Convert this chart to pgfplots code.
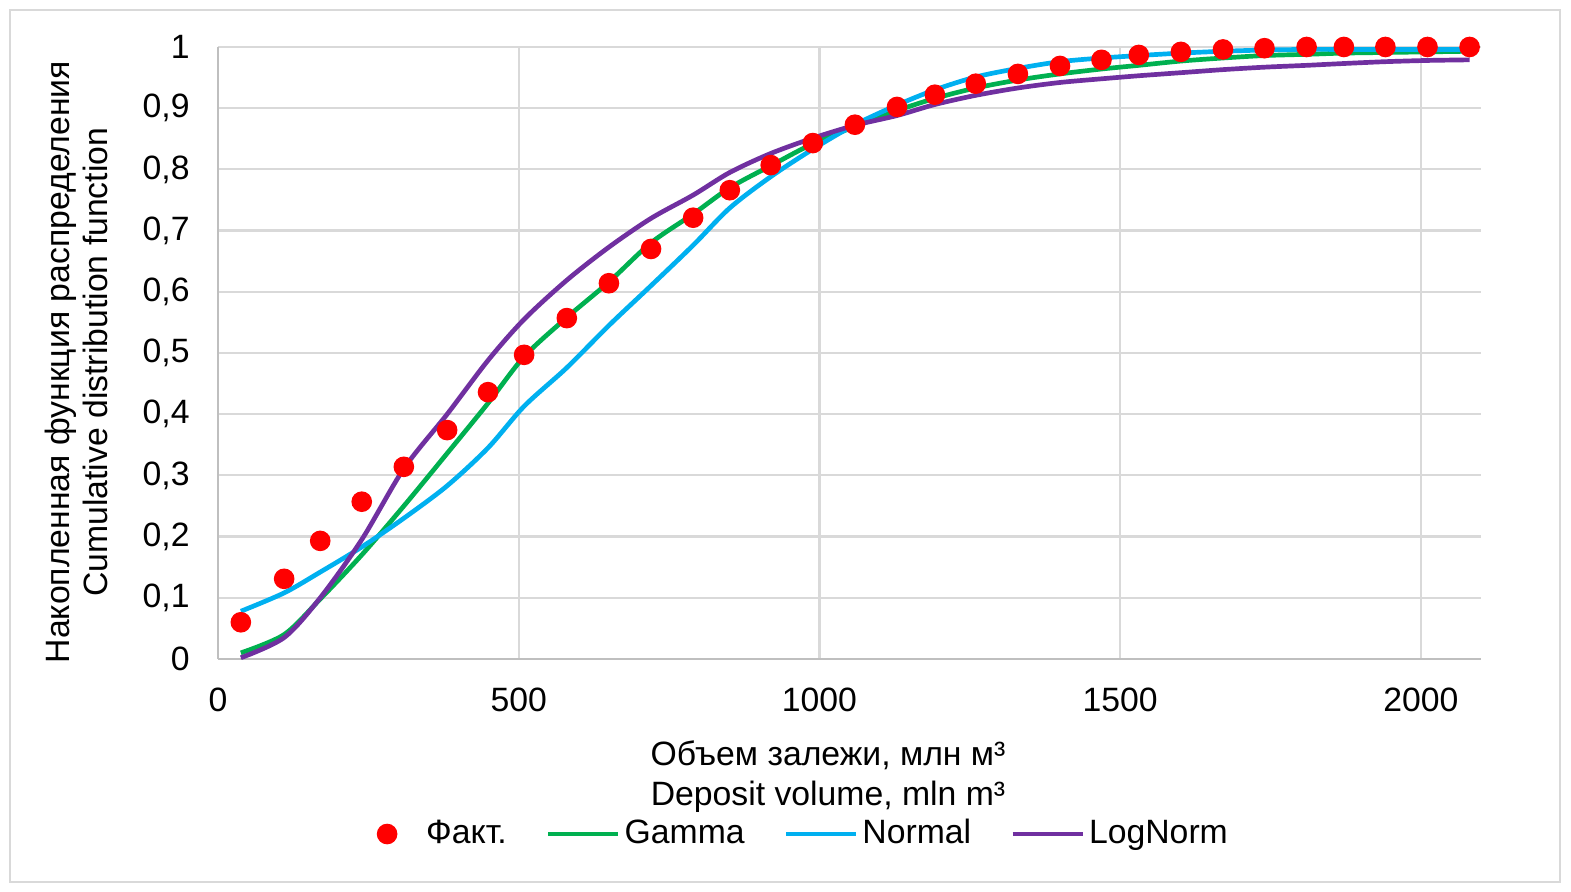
\documentclass[border=0pt]{standalone}
\usepackage{pgfplots}
\pgfplotsset{compat=1.18}
\usepackage{fontspec}
\setmainfont{Liberation Sans}
\definecolor{cred}{HTML}{FF0000}
\definecolor{cgreen}{HTML}{00B050}
\definecolor{cblue}{HTML}{00B0F0}
\definecolor{cpurple}{HTML}{7030A0}
\definecolor{cgrid}{HTML}{D9D9D9}
\definecolor{caxis}{HTML}{BFBFBF}
\pgfplotsset{
  linelegend/.style={legend image code/.code={\draw[##1] (0pt,0pt) -- (22.4pt,0pt);}},
  dotlegend/.style={legend image code/.code={\path[draw=none,fill=none] (0pt,0pt) rectangle (22.4pt,0pt);\draw[##1] plot coordinates {(11.2pt,0pt)};}},
}
\pgfplotstableread{
x y
38 0.060
110 0.131
170 0.193
239 0.257
309 0.314
381 0.374
449 0.436
509 0.497
580 0.557
650 0.614
720 0.670
790 0.721
851 0.766
919 0.807
989 0.843
1059 0.873
1129 0.902
1192 0.922
1260 0.940
1330 0.956
1400 0.969
1469 0.979
1531 0.987
1601 0.992
1671 0.996
1740 0.998
1810 1.000
1872 1.000
1941 1.000
2011 1.000
2081 1.000
}\fakt
\pgfplotstableread{
x y
38 0.010
110 0.040
170 0.098
239 0.170
309 0.250
381 0.336
449 0.418
509 0.494
580 0.558
650 0.616
720 0.680
790 0.727
851 0.770
919 0.806
989 0.842
1059 0.870
1129 0.896
1192 0.916
1260 0.933
1330 0.946
1400 0.956
1469 0.964
1531 0.970
1601 0.977
1671 0.982
1740 0.986
1810 0.988
1872 0.990
1941 0.991
2011 0.992
2081 0.993
}\gam
\pgfplotstableread{
x y
38 0.078
110 0.108
170 0.142
239 0.183
309 0.230
381 0.283
449 0.345
509 0.413
580 0.476
650 0.545
720 0.610
790 0.676
851 0.737
919 0.788
989 0.833
1059 0.873
1129 0.905
1192 0.930
1260 0.951
1330 0.965
1400 0.976
1469 0.982
1531 0.986
1601 0.990
1671 0.993
1740 0.995
1810 0.996
1872 0.996
1941 0.996
2011 0.996
2081 0.996
}\nrm
\pgfplotstableread{
x y
38 0.002
110 0.035
170 0.100
239 0.195
309 0.311
381 0.400
449 0.488
509 0.555
580 0.619
650 0.673
720 0.720
790 0.758
851 0.795
919 0.826
989 0.851
1059 0.872
1129 0.888
1192 0.906
1260 0.921
1330 0.933
1400 0.942
1469 0.948
1531 0.953
1601 0.958
1671 0.963
1740 0.967
1810 0.970
1872 0.973
1941 0.976
2011 0.978
2081 0.979
}\lgn
\begin{document}
\fontsize{10.8}{12.8}\selectfont
\begin{tikzpicture}
\useasboundingbox (0,0) rectangle (502.72pt,285.44pt);
\draw[cgrid, line width=0.7pt] (3.2pt,3.2pt) rectangle (499.2pt,282.24pt);
\begin{axis}[
  at={(69.76pt,74.56pt)}, anchor=south west,
  scale only axis, width=404.16pt, height=195.84pt,
  xmin=0, xmax=2100, ymin=0, ymax=1,
  xtick={0,500,1000,1500,2000},
  ytick={0,0.1,0.2,0.3,0.4,0.5,0.6,0.7,0.8,0.9,1},
  axis x line=bottom, axis y line=left,
  axis line style={caxis, line width=0.7pt, -},
  major tick length=0pt,
  grid=major, major grid style={cgrid, line width=0.7pt},
  /pgf/number format/use comma,
  /pgf/number format/assume math mode=true,
  /pgf/number format/1000 sep={},
  tick label style={font=\fontsize{10.8}{12.8}\selectfont},
  yticklabel style={xshift=-5.3pt},
  xticklabel style={yshift=-5.5pt},
  xlabel={Объем залежи, млн м³\\Deposit volume, mln m³},
  ylabel={Накопленная функция распределения\\Cumulative distribution function},
  xlabel style={at={(axis description cs:0.483,-0.1915)}, anchor=center, align=center, font=\fontsize{10.8}{12.8}\selectfont},
  ylabel style={at={(axis description cs:-0.1124,0.485)}, anchor=center, align=center, font=\fontsize{10.8}{12.2}\selectfont},
  legend columns=4,
  legend style={at={(axis description cs:0.4545,-0.286)}, anchor=center, draw=none, fill=none,
    font=\fontsize{10.8}{12.8}\selectfont,
    /tikz/every even column/.append style={column sep=11.2pt},
    inner sep=0pt, nodes={inner xsep=1.3pt}},
  linelegend,
  clip=false,
]
\addplot[only marks, mark=*, mark size=3.1pt, color=cred, dotlegend] table[x=x,y=y] {\fakt};
\addlegendentry{Факт.}
\addplot[smooth, color=cgreen, line width=1.5pt, no markers] table[x=x,y=y] {\gam};
\addlegendentry{Gamma}
\addplot[smooth, color=cblue, line width=1.5pt, no markers] table[x=x,y=y] {\nrm};
\addlegendentry{Normal}
\addplot[smooth, color=cpurple, line width=1.5pt, no markers] table[x=x,y=y] {\lgn};
\addlegendentry{LogNorm}
\end{axis}
\end{tikzpicture}
\end{document}
